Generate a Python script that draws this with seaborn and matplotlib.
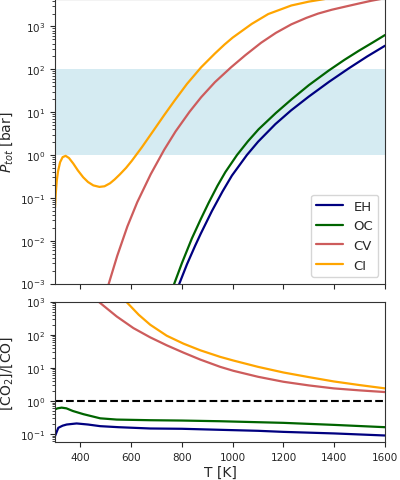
import numpy as np
import pandas as pd
import matplotlib
matplotlib.use("Agg")
import matplotlib.pyplot as plt
import seaborn as sns

# --- data --------------------------------------------------------------
series = ["EH", "OC", "CV", "CI"]
colors = {"EH": "navy", "OC": "darkgreen", "CV": "indianred", "CI": "orange"}

# total pressure (bar) vs temperature (K), upper panel
eh_T = [785, 790, 820, 852, 874, 918, 960, 997, 1056, 1100, 1168, 1230, 1299, 1380, 1457, 1530, 1600]
eh_P = [7.9e-4, 1e-3, 2.82e-3, 7.6e-3, 0.0145, 0.049, 0.141, 0.331, 1.0, 2.04, 5.25, 11.0, 22.9, 51.3, 105,
        200, 355]

oc_T = [765, 770, 800, 839, 874, 905, 940, 971, 1017, 1060, 1102, 1170, 1234, 1300, 1378, 1440, 1496, 1550, 1600]
oc_P = [7.9e-4, 1e-3, 3.0e-3, 0.0112, 0.0316, 0.0759, 0.191, 0.398, 1.0, 2.09, 3.98, 9.55, 20.4, 42.7, 93.3,
        166, 269, 417, 631]

cv_T = [505, 512, 545, 585, 624, 677, 730, 775, 830, 876, 930, 994, 1050, 1112, 1170, 1231, 1290, 1336,
        1390, 1441, 1500, 1546, 1600]
cv_P = [7.1e-4, 1e-3, 4.4e-3, 0.0214, 0.079, 0.355, 1.32, 3.55, 10.2, 22.4, 50.1, 112, 214, 417, 708, 1122,
        1585, 1995, 2455, 2884, 3467, 3981, 4571]

ci_T = [300, 303, 307, 312, 320, 330, 342, 355, 372, 390, 411, 430, 451, 475, 495, 517, 535, 556, 580, 602,
        642, 688, 730, 771, 820, 876, 930, 968, 1000, 1075, 1140, 1231, 1300, 1362, 1450, 1600]
ci_P = [0.059, 0.126, 0.251, 0.417, 0.676, 0.891, 0.955, 0.851, 0.631, 0.437, 0.302, 0.234, 0.195, 0.18, 0.186,
        0.219, 0.269, 0.355, 0.501, 0.724, 1.51, 3.72, 8.51, 18.6, 45.7, 112, 234, 380, 550, 1148, 1950, 3090,
        3802, 4365, 5129, 6310]

# [CO2]/[CO] vs temperature, lower panel
eh_T2 = [300, 313, 330, 346, 385, 430, 478, 550, 675, 800, 951, 1100, 1200, 1400, 1600]
eh_R = [0.087, 0.155, 0.18, 0.195, 0.21, 0.195, 0.174, 0.162, 0.148, 0.145, 0.135, 0.126, 0.117, 0.105, 0.091]

oc_T2 = [300, 310, 326, 345, 370, 412, 478, 543, 675, 800, 951, 1100, 1200, 1400, 1600]
oc_R = [0.56, 0.6, 0.63, 0.6, 0.5, 0.4, 0.3, 0.275, 0.263, 0.257, 0.245, 0.229, 0.219, 0.19, 0.162]

cv_T2 = [460, 471, 543, 609, 675, 740, 806, 872, 951, 1003, 1100, 1200, 1300, 1398, 1500, 1600]
cv_R = [1175, 1000, 355, 158, 83.2, 47.9, 28.8, 17.8, 10.7, 8.13, 5.37, 3.8, 2.95, 2.4, 2.09, 1.86]

ci_T2 = [570, 580, 630, 675, 740, 806, 872, 951, 1003, 1100, 1200, 1300, 1398, 1500, 1600]
ci_R = [1230, 1000, 398, 200, 93.3, 53.7, 33.9, 21.4, 16.6, 10.7, 7.24, 5.25, 3.89, 3.02, 2.4]

band = (1, 100)
xticks = [400, 600, 800, 1000, 1200, 1400, 1600]

# long tables for seaborn
top = pd.concat([
    pd.DataFrame({"T": t, "v": v, "type": name})
    for name, t, v in [("EH", eh_T, eh_P), ("OC", oc_T, oc_P), ("CV", cv_T, cv_P), ("CI", ci_T, ci_P)]
])
bot = pd.concat([
    pd.DataFrame({"T": t, "v": v, "type": name})
    for name, t, v in [("EH", eh_T2, eh_R), ("OC", oc_T2, oc_R), ("CV", cv_T2, cv_R), ("CI", ci_T2, ci_R)]
])

sns.set_style("ticks")
plt.rcParams["font.family"] = ["DejaVu Sans"]
plt.rcParams.update({
    "xtick.major.size": 3.5, "ytick.major.size": 3.5,
    "xtick.minor.size": 2, "ytick.minor.size": 2,
    "xtick.major.width": 0.8, "ytick.major.width": 0.8,
    "xtick.minor.width": 0.6, "ytick.minor.width": 0.6,
    "axes.linewidth": 0.8, "axes.edgecolor": "0.2",
})

fig = plt.figure(figsize=(4.0, 4.81), dpi=100)
ax1 = fig.add_axes([0.1375, 0.4085, 0.825, 0.5905])
ax2 = fig.add_axes([0.1375, 0.078, 0.825, 0.293], sharex=ax1)

ax1.axhspan(band[0], band[1], color="lightblue", alpha=0.5, lw=0)
sns.lineplot(data=top, x="T", y="v", hue="type", hue_order=series, palette=colors,
             lw=1.6, errorbar=None, ax=ax1)
ax1.set_yscale("log")
ax1.set_xlim(300, 1600)
ax1.set_ylim(1e-3, 10 ** 3.63)
ax1.set_xlabel("")
ax1.set_ylabel("$P_{tot}$ [bar]", fontsize=10)
ax1.yaxis.set_label_coords(-0.12, 0.5)
ax1.tick_params(axis="x", labelbottom=False)
ax1.tick_params(labelsize=7.5)
ax1.legend(loc="lower right", fontsize=9.5, framealpha=0.8)

sns.lineplot(data=bot, x="T", y="v", hue="type", hue_order=series, palette=colors,
             lw=1.6, errorbar=None, legend=False, ax=ax2)
ax2.axhline(1, color="black", ls="--", lw=1.5)
ax2.set_yscale("log")
ax2.set_ylim(0.056, 1000)
ax2.set_xticks(xticks)
ax2.set_xlabel("T [K]", fontsize=10, labelpad=2)
ax2.set_ylabel("[CO$_2$]/[CO]", fontsize=10)
ax2.yaxis.set_label_coords(-0.12, 0.5)
ax2.tick_params(labelsize=7.5)

fig.savefig("out.png", dpi=100)
